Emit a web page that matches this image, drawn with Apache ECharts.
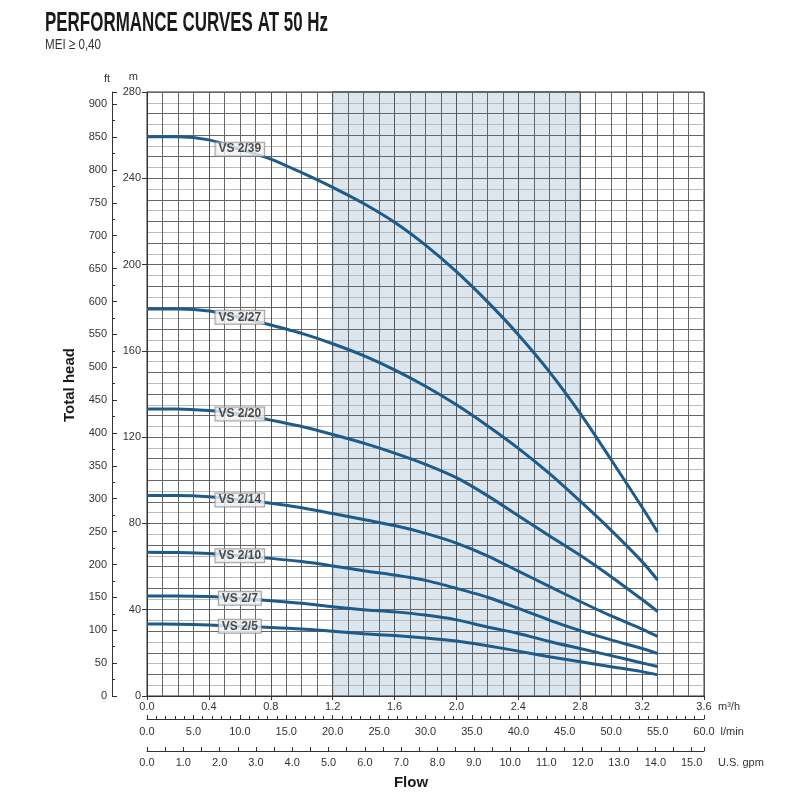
<!DOCTYPE html>
<html><head><meta charset="utf-8">
<script src="https://cdn.jsdelivr.net/npm/echarts@6/dist/echarts.min.js"></script>
<style>html,body{margin:0;padding:0;background:#fff}#c{width:800px;height:800px}</style>
</head><body><div id="c"></div>
<script>
// Flow values in m3/h
const flow = [0, 0.2, 0.4, 0.6, 0.8, 1.0, 1.2, 1.4, 1.6, 1.8, 2.0, 2.2, 2.4, 2.6, 2.8, 3.0, 3.2, 3.3];
// Total head in m
const vs239 = [259.2, 259.2, 257.8, 253.5, 248.9, 242.6, 235.8, 228.3, 219.6, 209.0, 196.7, 182.8, 167.5, 150.4, 131.0, 109.5, 87.5, 76.0];
const vs227 = [179.4, 179.4, 178.5, 175.6, 172.0, 168.1, 163.3, 157.8, 151.2, 143.6, 135.0, 125.3, 114.8, 103.2, 90.3, 76.8, 62.3, 53.8];
const vs220 = [133.1, 133.1, 132.3, 130.7, 127.9, 124.9, 121.2, 117.2, 112.6, 107.4, 101.2, 92.9, 83.6, 74.3, 65.2, 55.3, 44.7, 39.2];
const vs214 = [93.0, 93.0, 92.4, 90.9, 89.4, 87.3, 84.6, 81.8, 79.0, 75.4, 70.9, 65.0, 57.9, 50.8, 43.8, 37.1, 31.0, 27.6];
const vs210 = [66.6, 66.5, 66.1, 65.0, 63.8, 62.3, 60.3, 58.1, 56.1, 53.6, 49.9, 45.8, 40.6, 35.2, 30.3, 26.0, 22.0, 19.7];
const vs27  = [46.4, 46.4, 46.1, 45.3, 44.2, 43.0, 41.4, 40.0, 39.0, 37.5, 35.3, 32.0, 29.0, 25.3, 22.0, 18.7, 15.3, 13.7];
const vs25  = [33.4, 33.3, 32.9, 32.3, 31.8, 31.1, 30.0, 28.9, 28.0, 26.9, 25.5, 23.3, 20.8, 18.2, 15.9, 13.6, 11.3, 9.8];
const modelNames = ['VS 2/39', 'VS 2/27', 'VS 2/20', 'VS 2/14', 'VS 2/10', 'VS 2/7', 'VS 2/5'];
const modelHeads = [vs239, vs227, vs220, vs214, vs210, vs27, vs25];
const labelIndex = 3; // label sits on the curve at flow[3]
// shaded range, m3/h
const shadeRange = [1.2, 2.8];
// axis ranges
const flowMax = 3.6, lpmMax = 60, gpmMax = 15.34, headMax = 280, ftMax = 918.6;
const titleText = 'PERFORMANCE CURVES AT 50 Hz';
const subtitleText = 'MEI \u2265 0,40';

const FONT = '"Liberation Sans Narrow", "Liberation Sans", sans-serif';
const ctx = document.createElement('canvas').getContext('2d');
ctx.font = 'bold 28px ' + FONT;
const titleScale = 283 / ctx.measureText(titleText).width;
ctx.font = '15px ' + FONT;
const subScale = 56 / ctx.measureText(subtitleText).width;

const curveColor = '#1d5b8a';
const lbl = {fontFamily: FONT, fontSize: 11, color: '#333'};
const axLine = {show: true, onZero: false, lineStyle: {color: '#333'}};

const series = [{
  type: 'line', data: [], silent: true,
  markArea: {
    silent: true, z: 1,
    itemStyle: {color: '#dce6ee', borderColor: '#333', borderWidth: 1},
    data: [[{xAxis: shadeRange[0]}, {xAxis: shadeRange[1]}]]
  }
}];
modelNames.forEach((nm, i) => {
  series.push({
    name: nm, type: 'line', xAxisIndex: 0, yAxisIndex: 0,
    data: flow.map((q, k) => [q, modelHeads[i][k]]),
    smooth: 0.25, symbol: 'none', z: 5,
    lineStyle: {color: curveColor, width: 3}
  });
});
series.push({
  type: 'scatter', z: 10, xAxisIndex: 0, yAxisIndex: 0, symbolSize: 1, silent: true,
  itemStyle: {color: 'rgba(0,0,0,0)'},
  data: modelNames.map((nm, i) => ({name: nm, value: [flow[labelIndex], modelHeads[i][labelIndex]]})),
  label: {show: true, position: 'inside', formatter: p => p.name, fontFamily: FONT, fontWeight: 'bold', fontSize: 12,
    color: '#222', backgroundColor: '#f3f3f3', borderColor: '#8a8a8a', borderWidth: 1, padding: [1, 3, 0, 3]}
});

const chart = echarts.init(document.getElementById('c'));
chart.setOption({
  backgroundColor: '#fff',
  animation: false,
  grid: {left: 147, right: 96, top: 92, bottom: 104, show: true, borderColor: '#333', borderWidth: 1,
    backgroundColor: 'transparent', containLabel: false, outerBoundsMode: 'none'},
  xAxis: [
    {type: 'value', min: 0, max: flowMax, interval: 0.4, position: 'bottom', z: 2,
      axisLine: axLine,
      axisTick: {show: true, length: 4, lineStyle: {color: '#333'}},
      axisLabel: Object.assign({margin: 5, formatter: v => v.toFixed(1)}, lbl),
      splitLine: {show: true, lineStyle: {color: '#555', width: 1}},
      minorTick: {show: false, splitNumber: 4},
      minorSplitLine: {show: true, lineStyle: {color: '#666', width: 1}},
      name: 'm\u00b3/h', nameLocation: 'end', nameGap: 14,
      nameTextStyle: Object.assign({verticalAlign: 'top', padding: [5, 0, 0, 0]}, lbl)},
    {type: 'value', min: 0, max: lpmMax, interval: 5, position: 'bottom', offset: 23, z: 2,
      axisLine: axLine,
      axisTick: {show: true, inside: true, length: 4, lineStyle: {color: '#333'}},
      minorTick: {show: true, splitNumber: 5, length: 3, lineStyle: {color: '#333'}},
      axisLabel: Object.assign({margin: 7, formatter: v => v.toFixed(1)}, lbl),
      splitLine: {show: false},
      name: 'l/min', nameLocation: 'end', nameGap: 14,
      nameTextStyle: Object.assign({verticalAlign: 'top', padding: [7, 0, 0, 0]}, lbl)},
    {type: 'value', min: 0, max: gpmMax, interval: 1, position: 'bottom', offset: 55, z: 2,
      axisLine: axLine,
      axisTick: {show: true, inside: true, length: 4, lineStyle: {color: '#333'}},
      minorTick: {show: true, splitNumber: 2, length: 4, lineStyle: {color: '#333'}},
      axisLabel: Object.assign({margin: 6, showMaxLabel: false, formatter: v => (Math.abs(v - Math.round(v)) < 1e-6 ? v.toFixed(1) : '')}, lbl),
      splitLine: {show: false},
      name: 'U.S. gpm', nameLocation: 'end', nameGap: 14,
      nameTextStyle: Object.assign({verticalAlign: 'top', padding: [6, 0, 0, 0]}, lbl)}
  ],
  yAxis: [
    {type: 'value', min: 0, max: headMax, interval: 40, position: 'left', z: 2,
      axisLine: axLine,
      axisTick: {show: true, length: 5, lineStyle: {color: '#333'}},
      axisLabel: Object.assign({margin: 6}, lbl),
      splitLine: {show: false},
      name: 'm', nameLocation: 'end', nameGap: 10,
      nameTextStyle: Object.assign({align: 'right', padding: [0, 9, 0, 0]}, lbl)},
    {type: 'value', min: 0, max: headMax, interval: 10, position: 'left', show: true, z: 2,
      axisLine: {show: false}, axisTick: {show: false}, axisLabel: {show: false},
      splitLine: {show: true, lineStyle: {color: '#666', width: 1}},
      minorTick: {show: false, splitNumber: 2},
      minorSplitLine: {show: true, lineStyle: {color: '#bbb', width: 1}}},
    {type: 'value', min: 0, max: ftMax, interval: 50, position: 'left', offset: 35, z: 2,
      axisLine: axLine,
      axisTick: {show: true, inside: true, length: 5, lineStyle: {color: '#333'}},
      minorTick: {show: true, splitNumber: 2, length: 3, lineStyle: {color: '#333'}},
      axisLabel: Object.assign({margin: 5, showMaxLabel: false}, lbl),
      splitLine: {show: false},
      name: 'ft', nameLocation: 'end', nameGap: 8,
      nameTextStyle: Object.assign({align: 'right', padding: [0, 2, 0, 0]}, lbl)}
  ],
  graphic: [
    {type: 'text', x: 45, y: 23, scaleX: titleScale,
      style: {text: titleText, font: 'bold 28px ' + FONT, fill: '#1a1a1a', verticalAlign: 'middle', align: 'left'}},
    {type: 'text', x: 45, y: 45, scaleX: subScale,
      style: {text: subtitleText, font: '15px ' + FONT, fill: '#333', verticalAlign: 'middle', align: 'left'}},
    {type: 'text', x: 70, y: 385, rotation: Math.PI / 2,
      style: {text: 'Total head', font: 'bold 15px ' + FONT, fill: '#1a1a1a', verticalAlign: 'middle', align: 'center'}},
    {type: 'text', x: 411, y: 783,
      style: {text: 'Flow', font: 'bold 15px ' + FONT, fill: '#1a1a1a', verticalAlign: 'middle', align: 'center'}}
  ],
  series: series
});
</script>
</body></html>
